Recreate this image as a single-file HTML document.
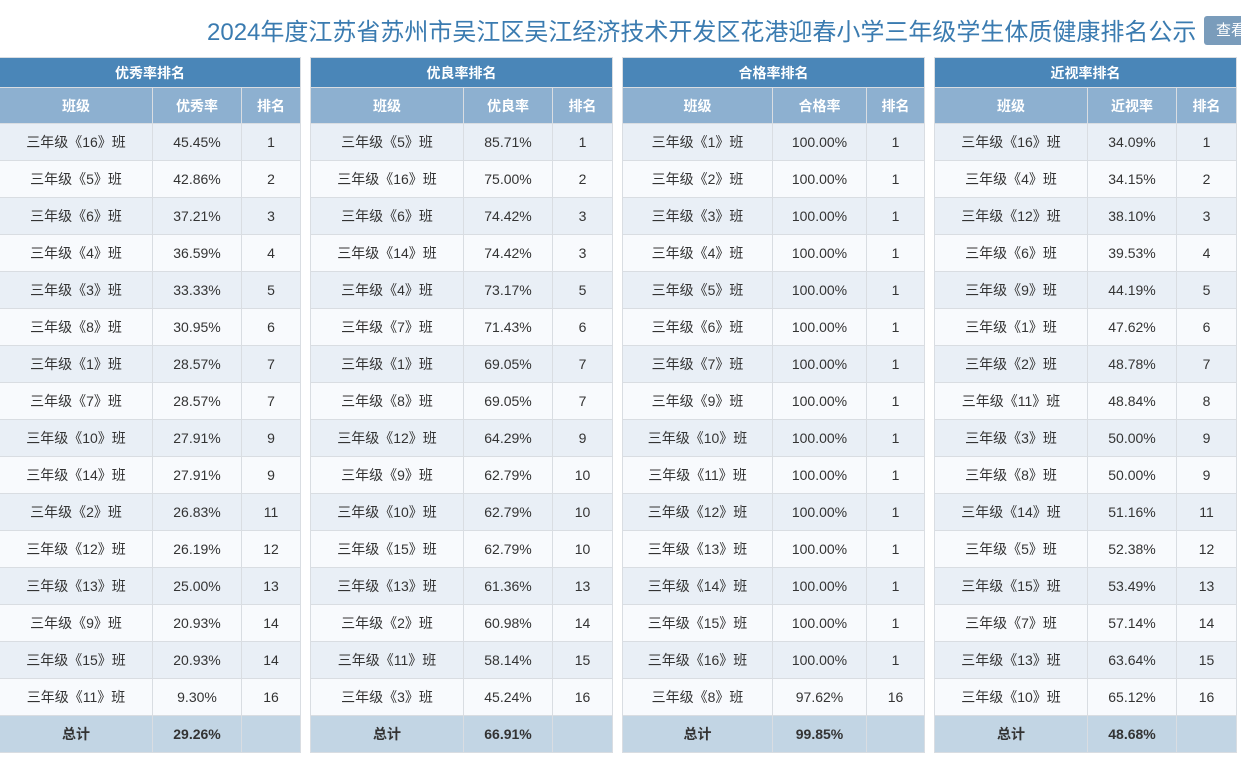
<!DOCTYPE html>
<html><head><meta charset="utf-8"><style>
body{margin:0;width:1241px;height:776px;background:#fff;overflow:hidden;position:relative;font-family:"Liberation Sans","Noto Sans CJK SC",sans-serif;}
.title{position:absolute;left:207px;top:12px;font-size:24px;color:#3a7bb0;white-space:nowrap;letter-spacing:0px;}
.btn{position:absolute;left:1204px;top:16px;width:60px;height:29px;background:#7a9cbb;border-radius:3px;color:#fff;font-size:15px;line-height:29px;padding-left:12px;box-sizing:border-box;}
table{position:absolute;top:57px;border-collapse:collapse;table-layout:fixed;font-size:14px;color:#333;}
td,th{border:1px solid #d9dde2;text-align:center;padding:0;}
tr.t th{background:#4a86b8;color:#fff;height:29px;font-size:14px;}
tr.h th{background:#8db0d0;color:#fff;height:35px;font-size:14px;}
tr.d td{height:36px;}
tr.d:nth-child(odd) td{background:#e9eff6;}
tr.d:nth-child(even) td{background:#f8fafd;}
tr.s td{background:#c2d5e4;font-weight:bold;height:36px;}
</style></head><body>
<div class="title">2024年度江苏省苏州市吴江区吴江经济技术开发区花港迎春小学三年级学生体质健康排名公示</div>
<div class="btn">查看</div>

<table style="left:-1px;width:301px"><colgroup><col style="width:153px"><col style="width:89px"><col style="width:59px"></colgroup>
<tr class="t"><th colspan="3">优秀率排名</th></tr>
<tr class="h"><th>班级</th><th>优秀率</th><th>排名</th></tr>
<tr class="d"><td>三年级《16》班</td><td>45.45%</td><td>1</td></tr>
<tr class="d"><td>三年级《5》班</td><td>42.86%</td><td>2</td></tr>
<tr class="d"><td>三年级《6》班</td><td>37.21%</td><td>3</td></tr>
<tr class="d"><td>三年级《4》班</td><td>36.59%</td><td>4</td></tr>
<tr class="d"><td>三年级《3》班</td><td>33.33%</td><td>5</td></tr>
<tr class="d"><td>三年级《8》班</td><td>30.95%</td><td>6</td></tr>
<tr class="d"><td>三年级《1》班</td><td>28.57%</td><td>7</td></tr>
<tr class="d"><td>三年级《7》班</td><td>28.57%</td><td>7</td></tr>
<tr class="d"><td>三年级《10》班</td><td>27.91%</td><td>9</td></tr>
<tr class="d"><td>三年级《14》班</td><td>27.91%</td><td>9</td></tr>
<tr class="d"><td>三年级《2》班</td><td>26.83%</td><td>11</td></tr>
<tr class="d"><td>三年级《12》班</td><td>26.19%</td><td>12</td></tr>
<tr class="d"><td>三年级《13》班</td><td>25.00%</td><td>13</td></tr>
<tr class="d"><td>三年级《9》班</td><td>20.93%</td><td>14</td></tr>
<tr class="d"><td>三年级《15》班</td><td>20.93%</td><td>14</td></tr>
<tr class="d"><td>三年级《11》班</td><td>9.30%</td><td>16</td></tr>
<tr class="s"><td>总计</td><td>29.26%</td><td></td></tr>
</table>

<table style="left:310px;width:302px"><colgroup><col style="width:153px"><col style="width:89px"><col style="width:60px"></colgroup>
<tr class="t"><th colspan="3">优良率排名</th></tr>
<tr class="h"><th>班级</th><th>优良率</th><th>排名</th></tr>
<tr class="d"><td>三年级《5》班</td><td>85.71%</td><td>1</td></tr>
<tr class="d"><td>三年级《16》班</td><td>75.00%</td><td>2</td></tr>
<tr class="d"><td>三年级《6》班</td><td>74.42%</td><td>3</td></tr>
<tr class="d"><td>三年级《14》班</td><td>74.42%</td><td>3</td></tr>
<tr class="d"><td>三年级《4》班</td><td>73.17%</td><td>5</td></tr>
<tr class="d"><td>三年级《7》班</td><td>71.43%</td><td>6</td></tr>
<tr class="d"><td>三年级《1》班</td><td>69.05%</td><td>7</td></tr>
<tr class="d"><td>三年级《8》班</td><td>69.05%</td><td>7</td></tr>
<tr class="d"><td>三年级《12》班</td><td>64.29%</td><td>9</td></tr>
<tr class="d"><td>三年级《9》班</td><td>62.79%</td><td>10</td></tr>
<tr class="d"><td>三年级《10》班</td><td>62.79%</td><td>10</td></tr>
<tr class="d"><td>三年级《15》班</td><td>62.79%</td><td>10</td></tr>
<tr class="d"><td>三年级《13》班</td><td>61.36%</td><td>13</td></tr>
<tr class="d"><td>三年级《2》班</td><td>60.98%</td><td>14</td></tr>
<tr class="d"><td>三年级《11》班</td><td>58.14%</td><td>15</td></tr>
<tr class="d"><td>三年级《3》班</td><td>45.24%</td><td>16</td></tr>
<tr class="s"><td>总计</td><td>66.91%</td><td></td></tr>
</table>

<table style="left:622px;width:302px"><colgroup><col style="width:150px"><col style="width:94px"><col style="width:58px"></colgroup>
<tr class="t"><th colspan="3">合格率排名</th></tr>
<tr class="h"><th>班级</th><th>合格率</th><th>排名</th></tr>
<tr class="d"><td>三年级《1》班</td><td>100.00%</td><td>1</td></tr>
<tr class="d"><td>三年级《2》班</td><td>100.00%</td><td>1</td></tr>
<tr class="d"><td>三年级《3》班</td><td>100.00%</td><td>1</td></tr>
<tr class="d"><td>三年级《4》班</td><td>100.00%</td><td>1</td></tr>
<tr class="d"><td>三年级《5》班</td><td>100.00%</td><td>1</td></tr>
<tr class="d"><td>三年级《6》班</td><td>100.00%</td><td>1</td></tr>
<tr class="d"><td>三年级《7》班</td><td>100.00%</td><td>1</td></tr>
<tr class="d"><td>三年级《9》班</td><td>100.00%</td><td>1</td></tr>
<tr class="d"><td>三年级《10》班</td><td>100.00%</td><td>1</td></tr>
<tr class="d"><td>三年级《11》班</td><td>100.00%</td><td>1</td></tr>
<tr class="d"><td>三年级《12》班</td><td>100.00%</td><td>1</td></tr>
<tr class="d"><td>三年级《13》班</td><td>100.00%</td><td>1</td></tr>
<tr class="d"><td>三年级《14》班</td><td>100.00%</td><td>1</td></tr>
<tr class="d"><td>三年级《15》班</td><td>100.00%</td><td>1</td></tr>
<tr class="d"><td>三年级《16》班</td><td>100.00%</td><td>1</td></tr>
<tr class="d"><td>三年级《8》班</td><td>97.62%</td><td>16</td></tr>
<tr class="s"><td>总计</td><td>99.85%</td><td></td></tr>
</table>

<table style="left:934px;width:302px"><colgroup><col style="width:153px"><col style="width:89px"><col style="width:60px"></colgroup>
<tr class="t"><th colspan="3">近视率排名</th></tr>
<tr class="h"><th>班级</th><th>近视率</th><th>排名</th></tr>
<tr class="d"><td>三年级《16》班</td><td>34.09%</td><td>1</td></tr>
<tr class="d"><td>三年级《4》班</td><td>34.15%</td><td>2</td></tr>
<tr class="d"><td>三年级《12》班</td><td>38.10%</td><td>3</td></tr>
<tr class="d"><td>三年级《6》班</td><td>39.53%</td><td>4</td></tr>
<tr class="d"><td>三年级《9》班</td><td>44.19%</td><td>5</td></tr>
<tr class="d"><td>三年级《1》班</td><td>47.62%</td><td>6</td></tr>
<tr class="d"><td>三年级《2》班</td><td>48.78%</td><td>7</td></tr>
<tr class="d"><td>三年级《11》班</td><td>48.84%</td><td>8</td></tr>
<tr class="d"><td>三年级《3》班</td><td>50.00%</td><td>9</td></tr>
<tr class="d"><td>三年级《8》班</td><td>50.00%</td><td>9</td></tr>
<tr class="d"><td>三年级《14》班</td><td>51.16%</td><td>11</td></tr>
<tr class="d"><td>三年级《5》班</td><td>52.38%</td><td>12</td></tr>
<tr class="d"><td>三年级《15》班</td><td>53.49%</td><td>13</td></tr>
<tr class="d"><td>三年级《7》班</td><td>57.14%</td><td>14</td></tr>
<tr class="d"><td>三年级《13》班</td><td>63.64%</td><td>15</td></tr>
<tr class="d"><td>三年级《10》班</td><td>65.12%</td><td>16</td></tr>
<tr class="s"><td>总计</td><td>48.68%</td><td></td></tr>
</table>
</body></html>
